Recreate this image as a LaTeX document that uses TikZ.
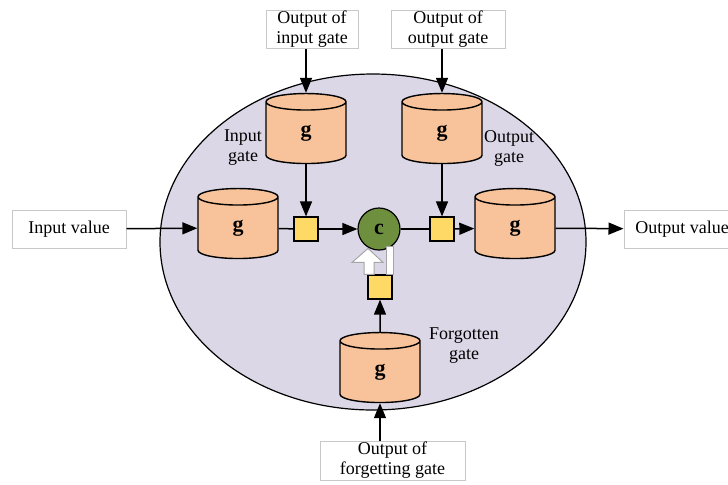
\documentclass[tikz,border=0pt]{standalone}
\usepackage{fontspec}
\setmainfont{Liberation Serif}
\usetikzlibrary{positioning,arrows.meta,calc,shapes.geometric}
\definecolor{lila}{HTML}{DCD7E7}
\definecolor{durazno}{HTML}{F8C39A}
\definecolor{amarillo}{HTML}{FFD966}
\definecolor{verde}{HTML}{6D8F3E}
\definecolor{borde}{HTML}{C8C8C8}

\begin{document}
\begin{tikzpicture}[x=0.5pt,y=-0.5pt,line width=0.75pt,font=\fontsize{9}{10}\selectfont,
    >={Triangle[length=7.5pt,width=6pt]},
    gcyl/.style={cylinder,shape border rotate=90,aspect=1.5,draw,line width=0.7pt,fill=durazno,
      minimum width=40pt,minimum height=35pt,inner sep=0pt,font=\fontsize{11}{12}\selectfont\bfseries},
    puerta/.style={rectangle,draw,line width=0.6pt,fill=amarillo,minimum size=12pt,inner sep=0pt},
    caja/.style={rectangle,draw=borde,line width=0.5pt,fill=white,align=center,inner xsep=2pt,inner ysep=0.5pt}]
        \useasboundingbox (0,0) rectangle (728,484);
        \draw[fill=lila,line width=0.6pt] (373,242) ellipse [x radius=213,y radius=168];
        % the five g blocks
        \foreach \nm/\px/\py in {gIn/238/228,gOut/515/228,gIg/306/133,gOg/442/133,gFg/380/372}{
          \node[gcyl] (\nm) at (\px,\py) {g};
        }
        \node[puerta] (sqI) at (306,229) {};
        \node[puerta] (sqO) at (442,229) {};
        \node[puerta] (sqF) at (380,287) {};
        \node[circle,draw,line width=0.6pt,fill=verde,minimum size=21pt,inner sep=0pt,font=\fontsize{11}{12}\selectfont\bfseries] (cell) at (379,229) {c};
        \node[caja,minimum width=57pt,minimum height=19pt] (inVal) at (69,229) {Input value};
        \node[caja,minimum width=58pt,minimum height=19pt] (outVal) at (682,229) {Output value};
        \node[caja,minimum width=46pt,minimum height=18.5pt] (tIg) at (312,29.5) {Output of\\input gate};
        \node[caja,minimum width=57pt,minimum height=18.5pt] (tOg) at (448,29.5) {Output of\\output gate};
        \node[caja,minimum width=72.5pt,minimum height=19.5pt] (tFg) at (392.5,460.5) {Output of\\forgetting gate};
        \node[align=center] (lblIg) at (243,148) {Input\\gate};
        \node[align=center] (lblOg) at (509,148) {Output\\gate};
        \node[align=center] (lblFg) at (464,346) {Forgotten\\gate};
        % connectors
        \draw[->] (inVal) -- (gIn);
        \draw (gIn) -- (sqI);
        \draw[->] (sqI) -- (cell);
        \draw (cell) -- (sqO);
        \draw[->] (sqO) -- (gOut);
        \draw[->] (gOut) -- (outVal);
        \draw[->] (tIg.south -| gIg.north) -- (gIg);
        \draw[->] (gIg) -- (sqI);
        \draw[->] (tOg.south -| gOg.north) -- (gOg);
        \draw[->] (gOg) -- (sqO);
        \draw[->] (tFg.north -| gFg.south) -- (gFg);
        \draw[->] (gFg) -- (sqF);
        % white loop back into c
        \begin{scope}[shift={(sqF.north)}]
          \draw[fill=white,draw=gray!70,line width=0.5pt] (-16,0) -- (-16,-12) -- (-28,-12) -- (-12,-26) -- (3,-12) -- (-6,-12) -- (-6,0) -- cycle;
          \draw[fill=white,draw=gray!70,line width=0.5pt] (6,0) rectangle (13,-28);
        \end{scope}
\end{tikzpicture}
\end{document}
